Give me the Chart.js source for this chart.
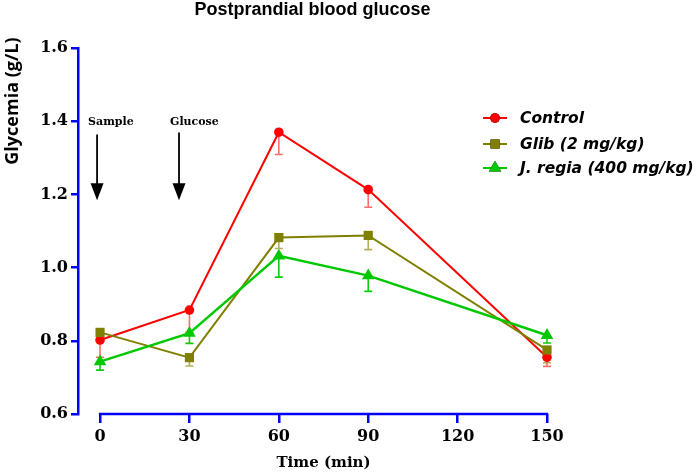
<!DOCTYPE html>
<html>
<head>
<meta charset="utf-8">
<script src="https://cdn.jsdelivr.net/npm/chart.js@4.4.1/dist/chart.umd.min.js"></script>
<style>
  html, body { margin: 0; padding: 0; background: #fff; }
  #wrap { width: 699px; height: 475px; position: relative; }
</style>
</head>
<body>
<div id="wrap"><canvas id="chart"></canvas></div>
<script>
// time points (min)
const times = [0, 30, 60, 90, 150];
const xTicks = [0, 30, 60, 90, 120, 150];

// mean glycemia (g/L) and SEM
const controlMean = [0.802, 0.884, 1.370, 1.213, 0.755];
const controlSem = [0.047, 0.060, 0.061, 0.048, 0.025];
const glibMean = [0.823, 0.754, 1.082, 1.088, 0.775];
const glibSem = [0.010, 0.023, 0.030, 0.039, 0.035];
const regiaMean = [0.743, 0.821, 1.032, 0.978, 0.815];
const regiaSem = [0.023, 0.028, 0.058, 0.043, 0.021];

const seriesNames = ['Control', 'Glib (2 mg/kg)', 'J. regia (400 mg/kg)'];

// arrows: label, x (min), top / bottom (g/L)
const arrowLabels = ['Sample', 'Glucose'];
const arrowX = [-1, 26.5];
const arrowTop = [1.364, 1.369];
const arrowBottom = [1.184, 1.184];

const BLUE = '#0000ff';
const colors = ['#ff0000', '#808000', '#00c800'];
const errColors = ['rgba(255,60,60,0.75)', 'rgba(150,150,30,0.75)', 'rgba(0,200,0,0.95)'];
const pointStyles = ['circle', 'rect', 'triangle'];
const pointSizes = [4.8, 6.5, 7.2];

function toPoints(means) {
    let pts = [];
    for (let i = 0; i < times.length; i++) {
        pts.push({x: times[i], y: means[i]});
    }
    return pts;
}

const sems = [controlSem, glibSem, regiaSem];

const extras = {
    id: 'extras',
    beforeDatasetsDraw(chart) {
        const ctx = chart.ctx;
        const xs = chart.scales.x, ys = chart.scales.y;
        ctx.save();
        // error bars (below the mean only)
        chart.data.datasets.forEach(function(ds, d) {
            ctx.strokeStyle = errColors[d];
            ctx.lineWidth = 1.6;
            for (let i = 0; i < ds.data.length; i++) {
                const px = xs.getPixelForValue(ds.data[i].x);
                const top = ys.getPixelForValue(ds.data[i].y);
                const bot = ys.getPixelForValue(ds.data[i].y - sems[d][i]);
                ctx.beginPath();
                ctx.moveTo(px, top);
                ctx.lineTo(px, bot);
                ctx.moveTo(px - 4, bot);
                ctx.lineTo(px + 4, bot);
                ctx.stroke();
            }
        });
        ctx.restore();
    },
    afterDraw(chart) {
        const ctx = chart.ctx;
        const xs = chart.scales.x, ys = chart.scales.y;
        const area = chart.chartArea;
        ctx.save();

        // x axis line, detached from the y axis
        ctx.strokeStyle = BLUE;
        ctx.lineWidth = 2.5;
        ctx.beginPath();
        ctx.moveTo(xs.getPixelForValue(0) - 1.2, area.bottom);
        ctx.lineTo(xs.getPixelForValue(150) + 1.2, area.bottom);
        ctx.stroke();

        // title
        ctx.fillStyle = '#000';
        ctx.textAlign = 'center';
        ctx.textBaseline = 'middle';
        ctx.font = 'bold 18px "Liberation Sans", Arial, sans-serif';
        ctx.fillText('Postprandial blood glucose', (area.left + area.right) / 2, 10);

        // x axis title
        ctx.font = 'bold 15px "DejaVu Serif", serif';
        ctx.fillText('Time (min)', (xs.getPixelForValue(0) + xs.getPixelForValue(150)) / 2, 463);

        // y axis title
        ctx.save();
        ctx.translate(13, 101);
        ctx.rotate(-Math.PI / 2);
        ctx.font = 'bold 18px "Open Sans", sans-serif';
        ctx.fillText('Glycemia (g/L)', 0, 0);
        ctx.restore();

        // arrows
        for (let i = 0; i < arrowLabels.length; i++) {
            const ax = xs.getPixelForValue(arrowX[i]);
            const at = ys.getPixelForValue(arrowTop[i]);
            const ab = ys.getPixelForValue(arrowBottom[i]);
            ctx.font = 'bold 11px "DejaVu Serif", serif';
            ctx.textAlign = 'left';
            ctx.fillText(arrowLabels[i], ax - 9, 122);
            ctx.strokeStyle = '#000';
            ctx.lineWidth = 1.8;
            ctx.beginPath();
            ctx.moveTo(ax, at);
            ctx.lineTo(ax, ab - 10);
            ctx.stroke();
            ctx.beginPath();
            ctx.moveTo(ax - 6.5, ab - 17);
            ctx.lineTo(ax + 6.5, ab - 17);
            ctx.lineTo(ax, ab);
            ctx.closePath();
            ctx.fill();
        }

        // legend
        const rows = [118, 144, 168];
        for (let d = 0; d < 3; d++) {
            const y = rows[d];
            ctx.strokeStyle = colors[d];
            ctx.lineWidth = 2;
            ctx.beginPath();
            ctx.moveTo(483, y);
            ctx.lineTo(507, y);
            ctx.stroke();
            Chart.helpers.drawPoint(ctx, {pointStyle: pointStyles[d], radius: pointSizes[d], borderWidth: 0}, 495, y);
            ctx.fillStyle = colors[d];
            ctx.fill();
            ctx.fillStyle = '#000';
            ctx.textAlign = 'left';
            ctx.textBaseline = 'middle';
            ctx.font = 'italic bold 15.5px "DejaVu Sans", Verdana, sans-serif';
            ctx.fillText(seriesNames[d], 520, y + 1);
        }
        ctx.restore();
    }
};

function makeDataset(d, means, width) {
    return {
        label: seriesNames[d],
        data: toPoints(means),
        borderColor: colors[d],
        backgroundColor: colors[d],
        borderWidth: width,
        pointStyle: pointStyles[d],
        pointRadius: pointSizes[d],
        pointBorderWidth: 0,
        order: 3 - d,
        clip: false
    };
}

const ctx = document.getElementById('chart').getContext('2d');
const chart = new Chart(ctx, {
    type: 'line',
    data: {
        datasets: [
            makeDataset(0, controlMean, 2),
            makeDataset(1, glibMean, 2),
            makeDataset(2, regiaMean, 2.5)
        ]
    },
    options: {
        responsive: true,
        maintainAspectRatio: false,
        animation: false,
        layout: {
            padding: {left: 0, top: 48, right: 152, bottom: 0}
        },
        plugins: {
            legend: { display: false },
            title: { display: false },
            tooltip: { enabled: false }
        },
        scales: {
            x: {
                type: 'linear',
                min: -7.4,
                max: 150,
                afterBuildTicks: function(scale) {
                    scale.ticks = xTicks.map(v => ({value: v}));
                },
                afterFit: function(scale) {
                    scale.height = 61;
                },
                border: { display: false },
                grid: {
                    drawOnChartArea: false,
                    drawTicks: true,
                    tickLength: 9,
                    color: BLUE,
                    lineWidth: 2.5
                },
                ticks: {
                    color: '#000',
                    padding: 4,
                    maxRotation: 0,
                    font: { family: '"DejaVu Serif", serif', weight: 'bold', size: 16 }
                }
            },
            y: {
                min: 0.6,
                max: 1.6,
                afterFit: function(scale) {
                    scale.width = 78;
                },
                border: { display: true, color: BLUE, width: 2.5 },
                grid: {
                    drawOnChartArea: false,
                    drawTicks: true,
                    tickLength: 7,
                    color: BLUE,
                    lineWidth: 2.5
                },
                ticks: {
                    stepSize: 0.2,
                    color: '#000',
                    padding: 3,
                    callback: function(value) { return value.toFixed(1); },
                    font: { family: '"DejaVu Serif", serif', weight: 'bold', size: 16 }
                }
            }
        }
    },
    plugins: [extras]
});
</script>
</body>
</html>
